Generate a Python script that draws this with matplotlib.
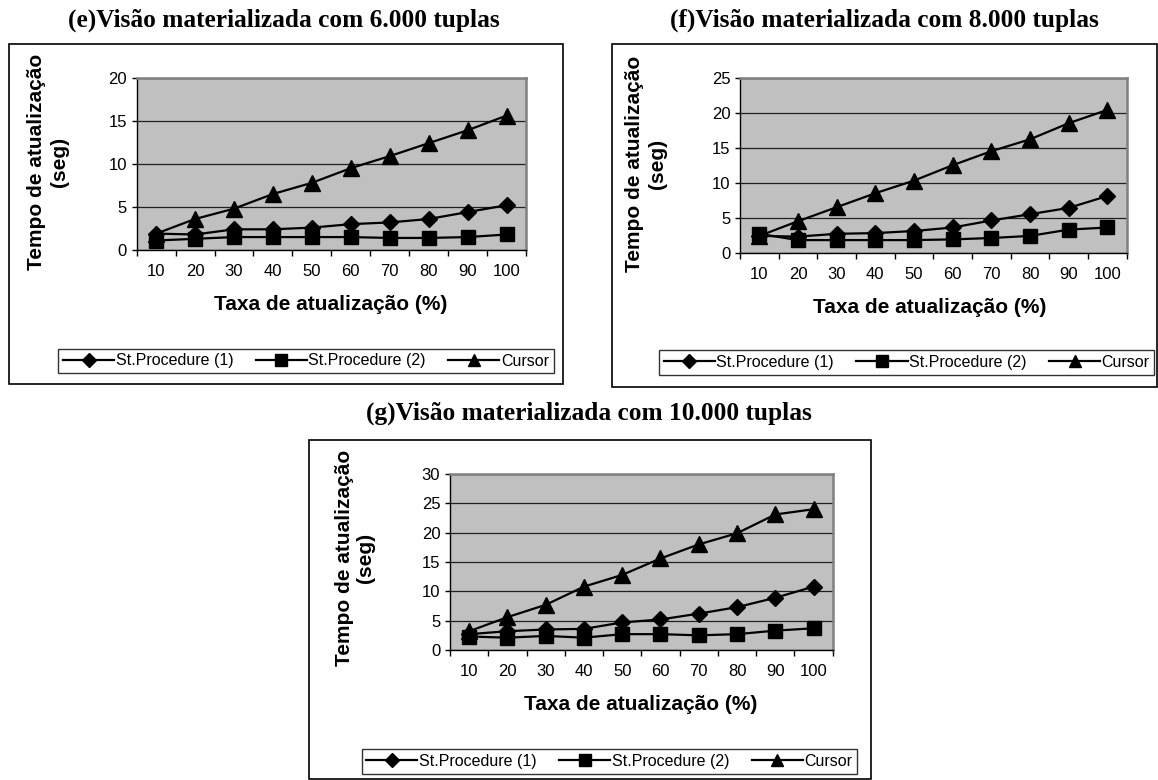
import matplotlib
matplotlib.use("Agg")
import matplotlib.pyplot as plt
from matplotlib.patches import Rectangle
from matplotlib.lines import Line2D

W, H = 1158, 780

categories = ["10", "20", "30", "40", "50", "60", "70", "80", "90", "100"]
series_names = ["St.Procedure (1)", "St.Procedure (2)", "Cursor"]

# (e) 6.000 tuplas
e_sp1 = [1.9, 1.8, 2.4, 2.4, 2.6, 3.0, 3.2, 3.6, 4.4, 5.2]
e_sp2 = [1.1, 1.3, 1.5, 1.5, 1.5, 1.5, 1.4, 1.4, 1.5, 1.8]
e_cur = [1.9, 3.6, 4.8, 6.5, 7.8, 9.5, 10.9, 12.4, 13.9, 15.6]

# (f) 8.000 tuplas
f_sp1 = [2.4, 2.3, 2.7, 2.8, 3.1, 3.6, 4.6, 5.5, 6.4, 8.1]
f_sp2 = [2.7, 1.8, 1.8, 1.8, 1.8, 1.9, 2.1, 2.4, 3.3, 3.6]
f_cur = [2.4, 4.5, 6.5, 8.5, 10.3, 12.5, 14.5, 16.2, 18.5, 20.4]

# (g) 10.000 tuplas
g_sp1 = [2.7, 3.2, 3.5, 3.6, 4.7, 5.2, 6.2, 7.3, 8.9, 10.8]
g_sp2 = [2.3, 2.1, 2.4, 2.1, 2.7, 2.7, 2.5, 2.7, 3.3, 3.7]
g_cur = [3.2, 5.6, 7.7, 10.8, 12.8, 15.6, 18.0, 19.9, 23.1, 24.0]

titles = ["(e)Visão materializada com 6.000 tuplas",
          "(f)Visão materializada com 8.000 tuplas",
          "(g)Visão materializada com 10.000 tuplas"]
ylabel = "Tempo de atualização\n(seg)"
xlabel = "Taxa de atualização (%)"

SANS = "Liberation Sans"
SERIF = "Liberation Serif"
markers = ["D", "s", "^"]
msizes = [8.5, 10, 11]


def fx(x):
    return x / W


def fy(y):
    return 1 - y / H


fig = plt.figure(figsize=(W / 100, H / 100), dpi=100)

# layout of each panel in pixel units
panels = [
    dict(data=(e_sp1, e_sp2, e_cur), ymax=20, title=titles[0], tpos=(284, 20),
         box=(9, 44, 563, 384), plot=(136.7, 77.7, 526, 250),
         ylab=(48, 162), xlab=(331, 305), leg=(60, 347, 552, 375)),
    dict(data=(f_sp1, f_sp2, f_cur), ymax=25, title=titles[1], tpos=(884, 20),
         box=(611.7, 44, 1157, 386.7), plot=(740, 77.7, 1126.7, 252.7),
         ylab=(646, 164), xlab=(930, 308), leg=(661.7, 348.3, 1151.7, 376.7)),
    dict(data=(g_sp1, g_sp2, g_cur), ymax=30, title=titles[2], tpos=(589, 413),
         box=(308.6, 440, 870.7, 779), plot=(450, 474, 832.7, 650),
         ylab=(355, 558), xlab=(641, 705), leg=(363, 747.7, 855.7, 775)),
]

for p in panels:
    bx0, by0, bx1, by1 = p["box"]
    fig.patches.append(Rectangle((fx(bx0), fy(by1)), fx(bx1 - bx0), (by1 - by0) / H,
                                 transform=fig.transFigure, fill=False,
                                 edgecolor="black", linewidth=1.2))
    fig.text(fx(p["tpos"][0]), fy(p["tpos"][1]), p["title"], ha="center", va="center",
             family=SERIF, fontweight="bold", fontsize=18.3)

    x0, y0, x1, y1 = p["plot"]
    ax = fig.add_axes([fx(x0), fy(y1), fx(x1 - x0), (y1 - y0) / H])
    ax.set_facecolor("#C0C0C0")
    xs = list(range(len(categories)))
    for vals, m, ms, name in zip(p["data"], markers, msizes, series_names):
        ax.plot(xs, vals, color="black", linewidth=1.6, marker=m, markersize=ms,
                markerfacecolor="black", markeredgecolor="black", label=name,
                clip_on=False, zorder=3)
    ax.set_xlim(-0.5, len(categories) - 0.5)
    ax.set_ylim(0, p["ymax"])
    ax.set_yticks(range(0, p["ymax"] + 1, 5))
    ax.set_xticks(xs)
    ax.set_xticklabels(categories)
    ax.set_xticks([i - 0.5 for i in range(len(categories) + 1)], minor=True)
    ax.tick_params(axis="x", which="major", length=0, pad=10, labelsize=12)
    ax.tick_params(axis="x", which="minor", length=4, width=1, direction="out")
    ax.tick_params(axis="y", length=3.5, width=1, pad=3.5, labelsize=12)
    for lab in ax.get_xticklabels() + ax.get_yticklabels():
        lab.set_family(SANS)
    ax.yaxis.grid(True, color="#202020", linewidth=0.9)
    ax.set_axisbelow(True)
    ax.spines["top"].set_color("#808080")
    ax.spines["right"].set_color("#808080")
    ax.spines["top"].set_linewidth(1.8)
    ax.spines["right"].set_linewidth(1.8)
    ax.spines["left"].set_linewidth(1)
    ax.spines["bottom"].set_linewidth(1)

    fig.text(fx(p["ylab"][0]), fy(p["ylab"][1]), ylabel, rotation=90, ha="center",
             va="center", multialignment="center", family=SANS, fontweight="bold",
             fontsize=15, linespacing=1.2)
    fig.text(fx(p["xlab"][0]), fy(p["xlab"][1]), xlabel, ha="center", va="center",
             family=SANS, fontweight="bold", fontsize=15)

    lx0, ly0, lx1, ly1 = p["leg"]
    handles = [Line2D([], [], color="black", linewidth=1.6, marker=m,
                      markersize=ms * 0.85, markerfacecolor="black")
               for m, ms in zip(markers, msizes)]
    leg = fig.legend(handles, series_names, loc="center",
                     bbox_to_anchor=(fx((lx0 + lx1) / 2), fy((ly0 + ly1) / 2)),
                     ncol=3, frameon=True, fancybox=False, edgecolor="black",
                     borderpad=0.3, handlelength=3.2, handletextpad=0.1,
                     columnspacing=1.4, prop={"family": SANS, "size": 11.5})
    leg.get_frame().set_linewidth(1)

fig.savefig("out.png", dpi=100)
